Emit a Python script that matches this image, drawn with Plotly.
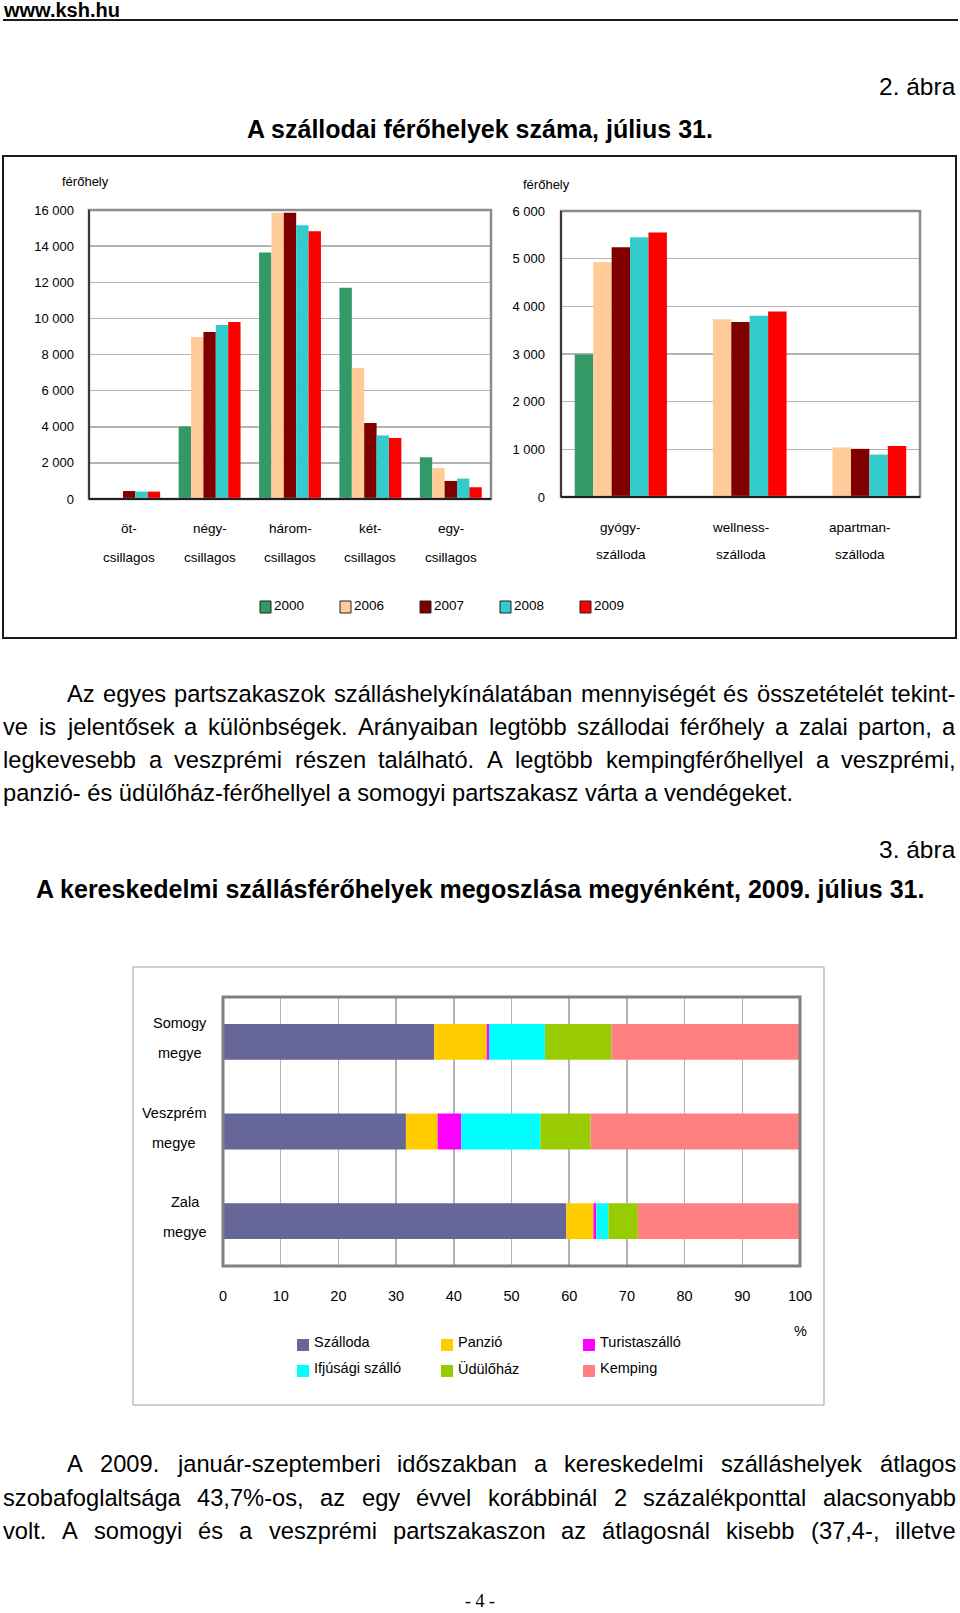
import plotly.graph_objects as go

W, H = 960, 1613
FONT = "Liberation Sans, Arial, Helvetica, sans-serif"

# ---------------- data: 2. ábra ----------------
years = ["2000", "2006", "2007", "2008", "2009"]
year_colors = ["#339966", "#FFCC99", "#800000", "#33CCCC", "#FF0000"]

star_line1 = ["öt-", "négy-", "három-", "két-", "egy-"]
star_line2 = ["csillagos", "csillagos", "csillagos", "csillagos", "csillagos"]
stars_2000 = [None, 4020, 13650, 11700, 2310]
stars_2006 = [None, 8970, 15850, 7250, 1720]
stars_2007 = [440, 9240, 15850, 4210, 1000]
stars_2008 = [410, 9630, 15150, 3520, 1130]
stars_2009 = [410, 9800, 14830, 3380, 650]

special_line1 = ["gyógy-", "wellness-", "apartman-"]
special_line2 = ["szálloda", "szálloda", "szálloda"]
special_2000 = [2990, None, None]
special_2006 = [4930, 3730, 1040]
special_2007 = [5240, 3670, 1010]
special_2008 = [5450, 3800, 890]
special_2009 = [5550, 3890, 1070]

left_ticks = [0, 2000, 4000, 6000, 8000, 10000, 12000, 14000, 16000]
right_ticks = [0, 1000, 2000, 3000, 4000, 5000, 6000]

# ---------------- data: 3. ábra ----------------
county_line1 = ["Somogy", "Veszprém", "Zala"]
county_line2 = ["megye", "megye", "megye"]
types = ["Szálloda", "Panzió", "Turistaszálló", "Ifjúsági szálló", "Üdülőház", "Kemping"]
type_colors = ["#666699", "#FFCC00", "#FF00FF", "#00FFFF", "#99CC00", "#FF8080"]
szalloda = [36.6, 31.7, 59.5]
panzio = [9.1, 5.5, 4.7]
turistaszallo = [0.4, 4.1, 0.5]
ifjusagi = [9.7, 13.7, 2.1]
udulohaz = [11.5, 8.7, 5.1]
kemping = [32.7, 36.3, 28.1]
pct_ticks = [0, 10, 20, 30, 40, 50, 60, 70, 80, 90, 100]

# ---------------- texts ----------------
para1 = [
    ("Az egyes partszakaszok szálláshelykínálatában mennyiségét és összetételét tekint-", True, True),
    ("ve is jelentősek a különbségek. Arányaiban legtöbb szállodai férőhely a zalai parton, a", False, True),
    ("legkevesebb a veszprémi részen található. A legtöbb kempingférőhellyel a veszprémi,", False, True),
    ("panzió- és üdülőház-férőhellyel a somogyi partszakasz várta a vendégeket.", False, False),
]
para2 = [
    ("A 2009. január-szeptemberi időszakban a kereskedelmi szálláshelyek átlagos", True, True),
    ("szobafoglaltsága 43,7%-os, az egy évvel korábbinál 2 százalékponttal alacsonyabb", False, True),
    ("volt. A somogyi és a veszprémi partszakaszon az átlagosnál kisebb (37,4-, illetve", False, True),
]


# ---------------- helpers (page pixel -> paper) ----------------
def px(x):
    return x / W


def py(y):
    return 1 - y / H


ARIAL = {" ": 278, "!": 278, "%": 889, "(": 333, ")": 333, ",": 278, "-": 333, ".": 278,
         ":": 278, ";": 278}
for c in "0123456789":
    ARIAL[c] = 556
ARIAL.update(dict(zip("ABCDEFGHIJKLMNOPQRSTUVWXYZ",
                      [667, 667, 722, 722, 667, 611, 778, 722, 278, 500, 667, 556, 833, 722,
                       778, 667, 778, 722, 667, 611, 722, 667, 944, 667, 667, 611])))
ARIAL.update(dict(zip("abcdefghijklmnopqrstuvwxyz",
                      [556, 556, 500, 556, 556, 278, 556, 556, 222, 222, 500, 222, 833, 556,
                       556, 556, 556, 333, 500, 278, 556, 500, 722, 500, 500, 500])))
ARIAL.update({"á": 556, "é": 556, "í": 278, "ó": 556, "ö": 556, "ő": 556, "ú": 556,
              "ü": 556, "ű": 556, "Á": 667, "É": 667, "Í": 278, "Ó": 778, "Ö": 778,
              "Ő": 778, "Ú": 722, "Ü": 722, "Ű": 722})


def text_width(s, size):
    return sum(ARIAL.get(c, 556) for c in s) / 1000.0 * size


annotations = []
shapes = []


def add_text(text, x, y, size, xanchor="center", bold=False, family=FONT, color="black",
             xref="paper", yref="paper", yshift=0, yanchor="middle"):
    annotations.append(dict(
        text=("<b>%s</b>" % text) if bold else text,
        x=x, y=y, xref=xref, yref=yref, xanchor=xanchor, yanchor=yanchor,
        showarrow=False, borderpad=0, borderwidth=0, yshift=yshift,
        font=dict(family=family, size=size, color=color)))


PARA_SIZE = 23.7
LEFT_M, INDENT, RIGHT_M = 3, 67, 956


def add_para_line(text, y, indent, justify):
    x_left = INDENT if indent else LEFT_M
    if not justify:
        add_text(text, px(x_left), py(y), PARA_SIZE, xanchor="left")
        return
    words = text.split(" ")
    widths = [text_width(w, PARA_SIZE) for w in words]
    gap = (RIGHT_M - x_left - sum(widths)) / (len(words) - 1)
    x = x_left
    for i, (w, wd) in enumerate(zip(words, widths)):
        if i == len(words) - 1:
            add_text(w, px(RIGHT_M), py(y), PARA_SIZE, xanchor="right")
        else:
            add_text(w, px(x), py(y), PARA_SIZE, xanchor="left")
        x += wd + gap


# ---------------- figure ----------------
fig = go.Figure()

star_cats = [a + b for a, b in zip(star_line1, star_line2)]
special_cats = [a + b for a, b in zip(special_line1, special_line2)]
stars_by_year = [stars_2000, stars_2006, stars_2007, stars_2008, stars_2009]
special_by_year = [special_2000, special_2006, special_2007, special_2008, special_2009]

for yr, col, sv, spv in zip(years, year_colors, stars_by_year, special_by_year):
    fig.add_trace(go.Bar(x=star_cats, y=sv, name=yr, marker=dict(color=col, line=dict(width=0)),
                         xaxis="x", yaxis="y", showlegend=False))
    fig.add_trace(go.Bar(x=special_cats, y=spv, name=yr, marker=dict(color=col, line=dict(width=0)),
                         xaxis="x2", yaxis="y2", showlegend=False))

county_cats = [a + " " + b for a, b in zip(county_line1, county_line2)]
type_values = [szalloda, panzio, turistaszallo, ifjusagi, udulohaz, kemping]
cum = [0.0] * len(county_cats)
for name, col, vals in zip(types, type_colors, type_values):
    fig.add_trace(go.Bar(x=vals, y=county_cats, base=list(cum), orientation="h", name=name,
                         marker=dict(color=col, line=dict(width=0)), offsetgroup="stack",
                         width=0.4, offset=-0.2, xaxis="x3", yaxis="y3", showlegend=False))
    cum = [c + v for c, v in zip(cum, vals)]

tick_font = dict(family=FONT, size=13, color="black")
grid_col = "#B4B4B4"
ax_common = dict(automargin=False)

fig.update_layout(
    width=W, height=H, margin=dict(l=0, r=0, t=0, b=0, pad=0, autoexpand=False),
    paper_bgcolor="white", plot_bgcolor="white",
    barmode="group", bargap=0.23, bargroupgap=0,
    separators=", ", dragmode=False, hovermode=False, showlegend=False,
    xaxis=dict(domain=[px(89), px(491)], anchor="y", type="category",
               categoryorder="array", categoryarray=star_cats, range=[-0.5, 4.5],
               showticklabels=False, showgrid=False, showline=False, zeroline=False, ticks="",
               **ax_common),
    yaxis=dict(domain=[py(499), py(210)], anchor="x", range=[0, 16000], tickvals=left_ticks,
               tickformat=",d", showgrid=True, gridcolor=grid_col, gridwidth=1.5,
               showline=False, zeroline=False, ticks="", ticklabelstandoff=14, tickfont=tick_font,
               **ax_common),
    xaxis2=dict(domain=[px(561), px(920)], anchor="y2", type="category",
                categoryorder="array", categoryarray=special_cats, range=[-0.5, 2.5],
                showticklabels=False, showgrid=False, showline=False, zeroline=False, ticks="",
                **ax_common),
    yaxis2=dict(domain=[py(497), py(211)], anchor="x2", range=[0, 6000], tickvals=right_ticks,
                tickformat=",d", showgrid=True, gridcolor=grid_col, gridwidth=1.5,
                showline=False, zeroline=False, ticks="", ticklabelstandoff=15, tickfont=tick_font,
                **ax_common),
    xaxis3=dict(domain=[px(223), px(800)], anchor="y3", range=[0, 100], tickvals=pct_ticks,
                showgrid=True, gridcolor=grid_col, gridwidth=1.5, showline=False, zeroline=False,
                ticks="", ticklabelstandoff=19, tickfont=dict(family=FONT, size=14.5, color="black"),
                **ax_common),
    yaxis3=dict(domain=[py(1266), py(997)], anchor="x3", type="category",
                categoryorder="array", categoryarray=county_cats, range=[2.5, -0.5],
                showticklabels=False, showgrid=False, showline=False, zeroline=False, ticks="",
                **ax_common),
)

# ---- plot-area frames ----
for xr, yr_ in (("x", "y"), ("x2", "y2")):
    shapes.append(dict(type="rect", xref=xr + " domain", yref=yr_ + " domain", x0=0, x1=1, y0=0, y1=1,
                       line=dict(color="#8C8C8C", width=2.5), layer="above"))
    shapes.append(dict(type="line", xref=xr + " domain", yref=yr_ + " domain", x0=0, x1=0, y0=0, y1=1,
                       line=dict(color="#202020", width=1.5), layer="above"))
    shapes.append(dict(type="line", xref=xr + " domain", yref=yr_ + " domain", x0=0, x1=1, y0=0, y1=0,
                       line=dict(color="#202020", width=2), layer="above"))
shapes.append(dict(type="rect", xref="x3 domain", yref="y3 domain", x0=0, x1=1, y0=0, y1=1,
                   line=dict(color="#808080", width=3), layer="above"))

# outer boxes & header line
shapes.append(dict(type="rect", xref="paper", yref="paper", x0=px(3), x1=px(956), y0=py(638), y1=py(156),
                   line=dict(color="#1A1A1A", width=2)))
shapes.append(dict(type="rect", xref="paper", yref="paper", x0=px(133), x1=px(824), y0=py(1405), y1=py(967),
                   line=dict(color="#A0A0A0", width=1)))
shapes.append(dict(type="line", xref="paper", yref="paper", x0=px(3), x1=px(958), y0=py(20), y1=py(20),
                   line=dict(color="#1A1A1A", width=2)))

# ---- header & titles ----
add_text("www.ksh.hu", px(3), py(10), 20, xanchor="left", bold=True)
add_text("2. ábra", px(956), py(87), 24.5, xanchor="right")
add_text("A szállodai férőhelyek száma, július 31.", px(480), py(129), 25, bold=True)
add_text("3. ábra", px(956), py(849), 24.5, xanchor="right")
add_text("A kereskedelmi szállásférőhelyek megoszlása megyénként, 2009. július 31.",
         px(480), py(889), 25, bold=True)

# ---- chart 1 axis titles & category labels ----
add_text("férőhely", px(85), py(182), 13)
add_text("férőhely", px(546), py(185), 13)
for cat, l1, l2 in zip(star_cats, star_line1, star_line2):
    add_text(l1, cat, py(529), 13.5, xref="x")
    add_text(l2, cat, py(558), 13.5, xref="x")
for cat, l1, l2 in zip(special_cats, special_line1, special_line2):
    add_text(l1, cat, py(528), 13.5, xref="x2")
    add_text(l2, cat, py(555), 13.5, xref="x2")

# ---- chart 1 legend ----
for i, (yr, col) in enumerate(zip(years, year_colors)):
    x0 = 260 + 80 * i
    shapes.append(dict(type="rect", xref="paper", yref="paper", x0=px(x0), x1=px(x0 + 11),
                       y0=py(613), y1=py(601), fillcolor=col, line=dict(color="#202020", width=1)))
    add_text(yr, px(x0 + 14), py(605), 13.5, xanchor="left")

# ---- chart 3 category labels ----
LBL = 14.5
for cat, l1, l2 in zip(county_cats, county_line1, county_line2):
    bw = max(text_width(l1, LBL), text_width(l2, LBL))
    xc = 207 - bw / 2
    add_text(l1, px(xc), cat, LBL, yref="y3", yshift=19)
    add_text(l2, px(xc), cat, LBL, yref="y3", yshift=-11)

add_text("%", px(800), py(1331), LBL)

# ---- chart 3 legend ----
leg_cols = [297, 441, 583]
leg_rows = [1342, 1368]
for i, (name, col) in enumerate(zip(types, type_colors)):
    cx = leg_cols[i % 3]
    ry = leg_rows[i // 3]
    shapes.append(dict(type="rect", xref="paper", yref="paper", x0=px(cx), x1=px(cx + 12),
                       y0=py(ry + 9), y1=py(ry - 3), fillcolor=col, line=dict(width=0)))
    add_text(name, px(cx + 17), py(ry), LBL, xanchor="left")

# ---- paragraphs ----
for (txt, ind, just), y in zip(para1, [694, 727, 760, 793]):
    add_para_line(txt, y, ind, just)
for (txt, ind, just), y in zip(para2, [1464, 1498, 1531]):
    add_para_line(txt, y, ind, just)

add_text("- 4 -", px(480), py(1601), 18, family="Liberation Serif, Times New Roman, serif")

fig.update_layout(annotations=annotations, shapes=shapes)

fig.write_html("out.html", config={"displayModeBar": False, "staticPlot": True},
               post_script="document.body.style.margin='0px';document.body.style.overflow='hidden';")
